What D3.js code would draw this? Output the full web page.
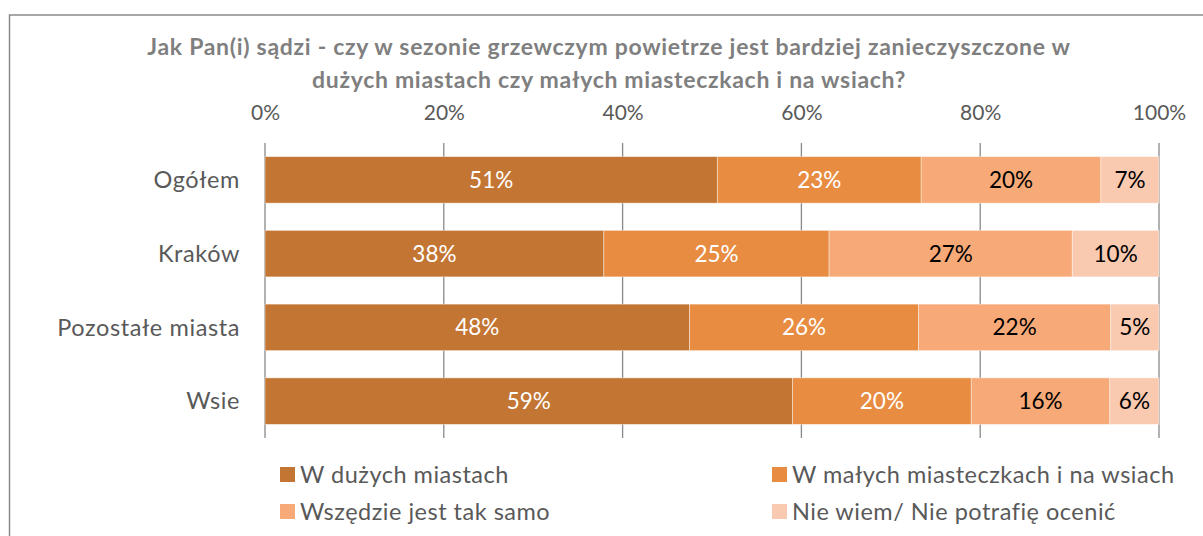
<!DOCTYPE html>
<html>
<head>
<meta charset="utf-8">
<script src="https://cdn.jsdelivr.net/npm/d3@7"></script>
<style>
html,body{margin:0;padding:0;background:#fff;}
svg{display:block;}
text{font-family:Lato,"Open Sans",sans-serif;}
</style>
</head>
<body>
<svg id="chart" width="1203" height="536"></svg>
<script>
const titleLines = [
  "Jak Pan(i) sądzi - czy w sezonie grzewczym powietrze jest bardziej zanieczyszczone w",
  "dużych miastach czy małych miasteczkach i na wsiach?"
];
const categories = ["Ogółem", "Kraków", "Pozostałe miasta", "Wsie"];
const seriesNames = ["W dużych miastach", "W małych miasteczkach i na wsiach", "Wszędzie jest tak samo", "Nie wiem/ Nie potrafię ocenić"];
const duzeMiasta   = [50.6, 37.9, 47.5, 59.0];
const maleMiasta   = [22.8, 25.2, 25.6, 20.0];
const wszedzie     = [20.1, 27.2, 21.5, 15.5];
const nieWiem      = [6.5, 9.7, 5.4, 5.5];
const tickValues = [0, 20, 40, 60, 80, 100];
const colors = ["#C37634", "#E88C42", "#F7AA77", "#F9C9B0"];
const labelColors = ["#ffffff", "#ffffff", "#000000", "#000000"];

const seriesValues = [duzeMiasta, maleMiasta, wszedzie, nieWiem];
const rows = categories.map((c, i) => {
  const r = {cat: c};
  seriesNames.forEach((s, j) => r[s] = seriesValues[j][i]);
  return r;
});
const stacked = d3.stack().keys(seriesNames)(rows);

const svg = d3.select("#chart");
const FONT = "Lato, 'Open Sans', sans-serif";

// frame
svg.append("rect").attr("x", 9.5).attr("y", 15).attr("width", 1220).attr("height", 560)
  .attr("fill", "none").attr("stroke", "#8a8a8a").attr("stroke-width", 1.5);

const x = d3.scaleLinear().domain([0, 100]).range([265, 1159]);
const y = d3.scaleBand().domain(categories).range([143, 438]).padding(0);
const barH = 46.5;

// title
svg.append("g").selectAll("text").data(titleLines).join("text")
  .attr("x", 609).attr("y", (d, i) => 55 + i * 33)
  .attr("text-anchor", "middle").attr("font-weight", "bold")
  .attr("font-size", 23).attr("letter-spacing", 0.7).attr("fill", "#7f7f7f").text(d => d);

// gridlines
svg.append("g").selectAll("line").data(tickValues).join("line")
  .attr("x1", d => x(d)).attr("x2", d => x(d))
  .attr("y1", 143).attr("y2", 438)
  .attr("stroke", "#898989").attr("stroke-width", 1.3);

// top axis labels
const axis = svg.append("g").attr("transform", "translate(0,120)")
  .call(d3.axisTop(x).tickValues(tickValues).tickFormat(d => d + "%").tickSize(0).tickPadding(0));
axis.select(".domain").remove();
axis.selectAll("text").attr("font-size", 21).attr("fill", "#595959")
  .attr("font-family", FONT).attr("dy", 0);

// category labels
const yAxis = svg.append("g").attr("transform", "translate(240,0)")
  .call(d3.axisLeft(y).tickSize(0).tickPadding(0));
yAxis.select(".domain").remove();
yAxis.selectAll("text").attr("font-size", 23.5).attr("letter-spacing", 0.6).attr("fill", "#595959")
  .attr("font-family", FONT).attr("dy", "0.35em");

// bars
const layers = svg.append("g").selectAll("g").data(stacked).join("g")
  .attr("fill", (d, i) => colors[i]);
layers.selectAll("rect").data(d => d).join("rect")
  .attr("x", d => x(d[0])).attr("width", d => x(d[1]) - x(d[0]))
  .attr("y", d => y(d.data.cat) + (y.bandwidth() - barH) / 2).attr("height", barH)
  .attr("stroke", "#ffffff").attr("stroke-opacity", 0.5).attr("stroke-width", 0.8);

// bar labels
const lbls = svg.append("g").selectAll("g").data(stacked).join("g")
  .attr("fill", (d, i) => labelColors[i]);
lbls.selectAll("text").data(d => d).join("text")
  .attr("x", d => (x(d[0]) + x(d[1])) / 2)
  .attr("y", d => y(d.data.cat) + y.bandwidth() / 2)
  .attr("dy", "0.36em").attr("text-anchor", "middle").attr("font-size", 22.5)
  .text(d => Math.round(d[1] - d[0]) + "%");

// legend
const legPos = [[280, 467], [772, 467], [280, 504], [772, 504]];
const leg = svg.append("g").selectAll("g").data(seriesNames).join("g")
  .attr("transform", (d, i) => `translate(${legPos[i][0]},${legPos[i][1]})`);
leg.append("rect").attr("width", 15).attr("height", 15).attr("fill", (d, i) => colors[i]);
leg.append("text").attr("x", 20).attr("y", 15.5).attr("font-size", 23.5).attr("letter-spacing", 0.5)
  .attr("fill", "#595959").text(d => d);
</script>
</body>
</html>
